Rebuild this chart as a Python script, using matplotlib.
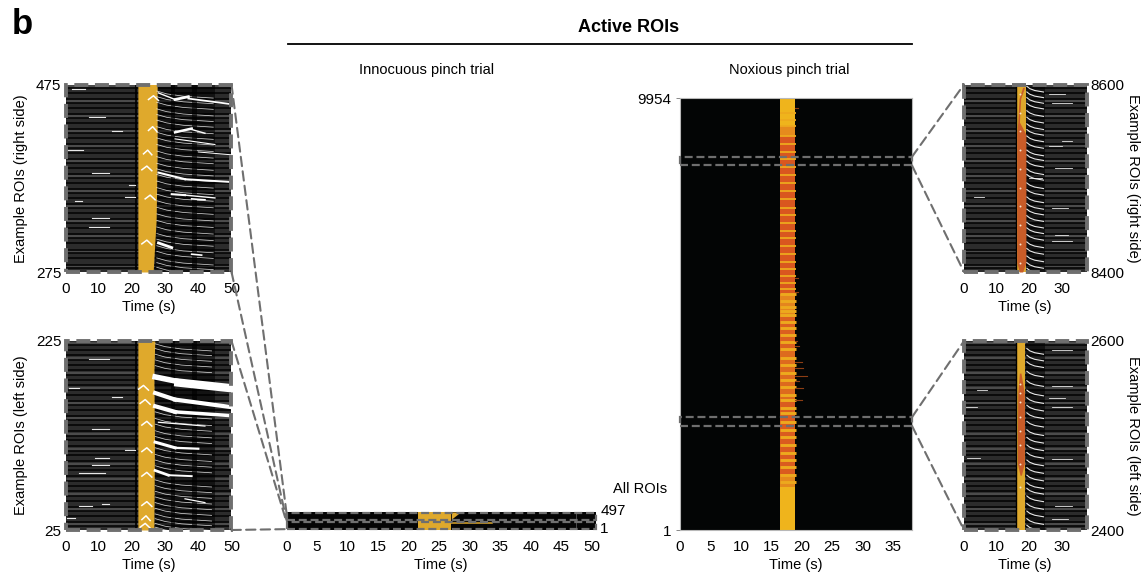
import matplotlib
matplotlib.use("Agg")
import numpy as np
import matplotlib.pyplot as plt
from matplotlib.colors import LinearSegmentedColormap
from matplotlib.patches import ConnectionPatch, Rectangle
from matplotlib.transforms import ScaledTranslation

plt.rcParams['font.family'] = ['Liberation Sans', 'DejaVu Sans']
plt.rcParams['font.size'] = 10.5

W, H = 1144, 580
GOLD = '#dfa92c'
ORANGE = '#c95c28'
BOX = '#6f6f6f'

# black lines in the example panels, offset from the bottom of the 200 ROI window
row_offsets = [4, 8, 15, 20, 24, 31, 36, 41, 47, 52, 57, 63, 68, 73, 79, 84, 89, 95, 100, 105,
               111, 116, 121, 127, 132, 137, 143, 148, 153, 159, 164, 169, 175, 180, 185, 191, 196]
# lighter bars between them
bar_offsets = [6, 22, 38, 54, 70, 86, 102, 118, 134, 150, 166, 182, 198]
# shape of one decaying trace after the stimulus
fade_t = [0, 3, 8, 17]
fade_drop = [0, 3, 5.5, 7.5]

# innocuous, right side (275-475)
a_band_roi = [475, 400, 330, 300, 275]
a_band_right = [27.6, 27.6, 27.3, 26.8, 26.4]
a_fade_roi = [468, 462, 456, 449, 443, 437, 430, 424, 418, 411, 404, 398, 391, 385, 379, 372, 365,
              358, 351, 344, 337, 330, 323, 316, 310, 303, 297, 290, 285, 280]
a_bright = [(28, 466, 33, 459, 1.0), (33, 459, 37, 462, 2.0), (37, 460, 50, 454, 1.3), (33, 424, 38, 428, 1.8),
            (38, 427, 42, 423, 1.0), (28, 381, 36, 374, 1.5), (36, 374, 50, 371, 1.4), (32, 358, 36, 357, 1.5),
            (36, 357, 45, 354, 1.0), (28, 306, 32, 301, 2.0), (38, 353, 42, 352, 1.2), (38, 294, 41, 293, 1.2),
            (33, 417, 45, 411, 0.8), (40, 403, 50, 400, 0.7)]
a_specks = [(0.3, 5.4, 405), (8, 13, 381), (7, 13, 323), (8, 13, 333), (3, 5, 351), (19, 21, 368), (2, 6, 470),
            (7, 12, 440), (14, 17, 425), (18, 21, 355)]
a_arcs = [(23, 26, 388), (23, 26, 309), (24, 27, 357), (25, 27.5, 430), (25, 28, 463), (23.5, 26, 405)]

# innocuous, left side (25-225)
b_band_roi = [225, 190, 120, 25]
b_band_right = [26.9, 26.6, 26.8, 26.6]
b_fade_roi = [222, 217, 211, 205, 199, 150, 143, 137, 130, 124, 112, 105, 99, 93, 78, 72, 66, 60,
              54, 48, 42, 37, 32, 28]
b_bright = [(27, 187, 34, 182, 4.0), (34, 181, 50, 175, 6.0), (27, 170, 33, 163, 3.0), (33, 163, 50, 155, 3.0),
            (27, 156, 33, 150, 3.0), (33, 150, 50, 146, 2.5), (27, 118, 33, 112, 2.2), (33, 112, 40, 111, 1.6),
            (27, 88, 31, 83, 2.0), (31, 83, 38, 82, 1.4), (28, 139, 42, 135, 0.9), (36, 58, 42, 54, 0.9)]
b_specks = [(7, 13, 206), (8, 13, 132), (9, 13, 101), (4, 12, 85), (8, 13, 94), (4, 8, 50), (11, 13, 52), (0.5, 3, 38),
            (1, 4, 175), (14, 17, 166), (18, 21, 110)]
b_arcs = [(22, 25, 178), (22.5, 25.5, 163), (23, 26, 86), (23, 26, 55), (23, 25.5, 40), (22.5, 25.5, 32),
          (23, 26, 140), (23, 26, 112)]

# noxious, right side (8400-8600)
e_orange_roi = [8597, 8585, 8560, 8547, 8410, 8400]
e_orange_left = [18.0, 16.9, 16.5, 16.2, 16.2, 17.0]
e_orange_right = [18.6, 17.4, 17.0, 19.0, 19.0, 18.0]
e_fade_roi = [8598, 8592, 8586, 8580, 8572, 8565, 8558, 8552, 8545, 8538, 8530, 8525, 8518, 8510, 8504,
              8495, 8488, 8480, 8473, 8467, 8460, 8453, 8447, 8440, 8432, 8425, 8417, 8410, 8404]
e_specks = [(27, 33, 8580), (26, 30, 8534), (30, 33, 8540), (3, 6, 8480), (27, 32, 8468), (28, 32, 8440),
            (27, 33, 8433), (28, 33, 8511), (26, 31, 8590), (20, 24, 8500)]
e_dots = [8590, 8570, 8550, 8530, 8510, 8490, 8470, 8450, 8430, 8410]

# noxious, left side (2400-2600)
f_orange_roi = [2566, 2545, 2500, 2470, 2458]
f_orange_left = [17.0, 16.5, 16.4, 16.4, 17.2]
f_orange_right = [17.5, 18.5, 18.6, 18.5, 17.6]
f_fade_roi = [2592, 2585, 2578, 2568, 2558, 2548, 2540, 2532, 2524, 2515, 2506, 2498, 2490, 2482, 2474,
              2466, 2458, 2450, 2444, 2436, 2428, 2420, 2412, 2405]
f_specks = [(27, 33, 2552), (27, 33, 2530), (26, 31, 2540), (0.5, 4, 2530), (1, 5, 2476), (27, 33, 2475),
            (27, 32, 2412), (27, 33, 2590), (28, 33, 2425), (4, 7, 2548)]
f_dots = [2555, 2545, 2535, 2520, 2505, 2490, 2470, 2445]

# all ROIs, innocuous trial
c_band = [21.6, 27.0]
c_top_right = [27.0, 28.5]
c_tail = [26.5, 33.7, 190]

# all ROIs, noxious trial
nox_edges = [9954, 9300, 9090, 5440, 4900, 4150, 3000, 1300, 1000, 1]
nox_levels = [0.0, 0.45, 1.0, 0.5, 0.9, 0.8, 0.95, 0.45, 0.0]
nox_band = [16.5, 18.9]
nox_gold_rows = [9600, 9450, 9300, 9086, 8902, 8718, 8557, 8373, 8189, 8005, 7821, 7637, 7430, 7269, 7085, 6901,
                 6717, 6533, 6349, 6165, 6004, 5843, 5682, 5544, 5429, 5268, 5130, 5038, 4946, 4785, 4647,
                 4486, 4325, 4164, 3957, 3796, 3612, 3451, 3290, 3106, 2991, 2807, 2692, 2485, 2301,
                 2140, 1956, 1772, 1611, 1450, 1266, 1105]
nox_streaks = [(19.4, 9730), (20.0, 3865), (20.2, 3727), (20.9, 3543), (19.6, 3428), (20.2, 3267), (20.0, 3000),
               (19.4, 5480), (19.2, 4350), (19.6, 4230), (19.3, 5810)]


def px_axes(x0, y0, x1, y1):
    return fig.add_axes([x0 / W, 1 - y1 / H, (x1 - x0) / W, (y1 - y0) / H])


def label_axes(ax, xticks, yticks, side='left'):
    ax.set_xticks(xticks)
    ax.set_yticks(yticks)
    ax.tick_params(length=0, labelsize=11)
    ax.tick_params(axis='x', pad=7)
    ax.tick_params(axis='y', pad=3)
    ax.set_xlabel('Time (s)', labelpad=3, fontsize=10.5)
    if side == 'right':
        ax.yaxis.tick_right()
    for s in ax.spines.values():
        s.set_visible(False)


def draw_rois(ax, bottom, tmax, band_left, late_end):
    ax.set_facecolor('#2c2c2c')
    ax.hlines([bottom + r for r in bar_offsets], 0, tmax, color='#4b4b4b', lw=2.4, zorder=0.8)
    ax.hlines([bottom + r for r in row_offsets], 0, tmax, color='#050505', lw=1.2, zorder=1)
    ax.axvspan(band_left, late_end, color='black', alpha=0.55, lw=0, zorder=1.5)


def draw_box(ax, x0, x1, y0, y1, lw=2.8, dash=(3.6, 1.7)):
    ax.add_patch(Rectangle((x0, y0), x1 - x0, y1 - y0, fill=False, ec=BOX, lw=lw,
                           ls=(0, dash), clip_on=False, zorder=6))


def draw_fades(ax, rois, t0, span, drop, lw=0.55, alpha=0.8):
    for r in rois:
        ts = [t0 + t * span for t in fade_t]
        ys = [r - d * drop for d in fade_drop]
        ax.plot(ts, ys, color='white', lw=lw, alpha=alpha, zorder=3.4)


def draw_specks(ax, specks, lw=0.8):
    for t0, t1, r in specks:
        ax.plot([t0, t1], [r, r], color='#e8e8e8', lw=lw, zorder=3)


def draw_arcs(ax, arcs):
    for t0, t1, r in arcs:
        ax.plot([t0, (t0 + t1) / 2, t1], [r - 4, r, r - 5], color='white', lw=1.1, zorder=4)


def dark_columns(ax):
    ax.axvspan(31.8, 33, color='black', alpha=0.65, lw=0, zorder=3.5)
    ax.axvspan(38.2, 39.5, color='black', alpha=0.65, lw=0, zorder=3.5)


fig = plt.figure(figsize=(W / 100, H / 100), dpi=100)

# example ROIs, innocuous
ax_a = px_axes(65.5, 84.5, 231.5, 272)
ax_a.set_xlim(0, 50)
ax_a.set_ylim(275, 475)
draw_rois(ax_a, 275, 50, 27, 45)
dark_columns(ax_a)
ax_a.fill_betweenx(a_band_roi, 21.8, a_band_right, color=GOLD, lw=0, zorder=2)
ax_a.axvline(21.3, color='black', lw=1.2, zorder=2)
draw_specks(ax_a, a_specks)
draw_fades(ax_a, a_fade_roi, 27.5, 1, 1)
for t0, r0, t1, r1, lw in a_bright:
    ax_a.plot([t0, t1], [r0, r1], color='white', lw=lw, zorder=4)
draw_arcs(ax_a, a_arcs)
draw_box(ax_a, 0, 50, 275, 475)
label_axes(ax_a, [0, 10, 20, 30, 40, 50], [275, 475])
ax_a.set_ylabel('Example ROIs (right side)', fontsize=10.5)
ax_a.yaxis.set_label_coords(-0.226, 0.5)

ax_b = px_axes(65.5, 341, 231.5, 530)
ax_b.set_xlim(0, 50)
ax_b.set_ylim(25, 225)
draw_rois(ax_b, 25, 50, 27, 45)
dark_columns(ax_b)
ax_b.fill_betweenx(b_band_roi, 21.8, b_band_right, color=GOLD, lw=0, zorder=2)
ax_b.axvline(21.3, color='black', lw=1.2, zorder=2)
draw_specks(ax_b, b_specks)
draw_fades(ax_b, b_fade_roi, 27, 1, 1)
for t0, r0, t1, r1, lw in b_bright:
    ax_b.plot([t0, t1], [r0, r1], color='white', lw=lw, zorder=4)
draw_arcs(ax_b, b_arcs)
draw_box(ax_b, 0, 50, 25, 225)
label_axes(ax_b, [0, 10, 20, 30, 40, 50], [25, 225])
ax_b.set_ylabel('Example ROIs (left side)', fontsize=10.5)
ax_b.yaxis.set_label_coords(-0.226, 0.5)

# all ROIs, innocuous
ax_c = px_axes(286.5, 512, 596, 530)
ax_c.set_xlim(0, 50.7)
ax_c.set_ylim(1, 497)
ax_c.set_facecolor('#050505')
ax_c.axvspan(c_band[0], c_band[1], color=GOLD, lw=0, zorder=2)
ax_c.fill_between(c_top_right, [300, 497], 497, color=GOLD, lw=0, zorder=2)
ax_c.plot(c_tail[:2], [c_tail[2], c_tail[2]], color=GOLD, lw=1.1, zorder=2)
ax_c.axvline(47.5, color='#555555', lw=0.6, zorder=1)
draw_box(ax_c, 0, 50.7, 25, 225, lw=1.6)
draw_box(ax_c, 0, 50.7, 275, 475, lw=1.6)
label_axes(ax_c, [0, 5, 10, 15, 20, 25, 30, 35, 40, 45, 50], [1, 497], side='right')
for lab in ax_c.get_yticklabels():
    lab.set_transform(lab.get_transform() + ScaledTranslation(0, 2 / 72, fig.dpi_scale_trans))

# all ROIs, noxious
ax_d = px_axes(680, 98, 912, 530)
ax_d.set_xlim(0, 38.1)
ax_d.set_ylim(1, 9954)
ax_d.set_facecolor('#030505')
heat = LinearSegmentedColormap.from_list('heat', ['#efb41c', '#d9571f'])
ax_d.pcolormesh(nox_band, nox_edges[::-1], np.array(nox_levels[::-1]).reshape(-1, 1), cmap=heat, vmin=0, vmax=1,
                zorder=2)
for r in nox_gold_rows:
    lw = 2.1 if r < 5450 else 1.3
    ax_d.plot([16.5, 19.1], [r, r], color='#eda91d', lw=lw, solid_capstyle='butt', zorder=3)
for t1, r in nox_streaks:
    ax_d.plot([18.9, t1], [r, r], color='#8c3d14', lw=0.8, zorder=3)
draw_box(ax_d, 0, 38.1, 8400, 8600, lw=1.6)
draw_box(ax_d, 0, 38.1, 2400, 2600, lw=1.6)
label_axes(ax_d, [0, 5, 10, 15, 20, 25, 30, 35], [1, 9954])
ax_d.tick_params(axis='y', length=3, width=0.7, color='#888888', pad=3)
for s in ax_d.spines.values():
    s.set_visible(True)
    s.set_color('#b8b8b8')
    s.set_linewidth(0.8)

# example ROIs, noxious
ax_e = px_axes(964, 84.5, 1086.5, 272)
ax_e.set_xlim(0, 37.6)
ax_e.set_ylim(8400, 8600)
draw_rois(ax_e, 8400, 37.6, 19, 25)
ax_e.axvspan(16.2, 19, color=GOLD, lw=0, zorder=2)
ax_e.fill_betweenx(e_orange_roi, e_orange_left, e_orange_right, color=ORANGE, lw=0, zorder=2.2)
ax_e.scatter([17.2] * len(e_dots), e_dots, s=2, color='#f5e6d0', lw=0, zorder=3)
ax_e.axvline(15.9, color='black', lw=1, zorder=2)
draw_fades(ax_e, e_fade_roi, 19.3, 0.3, 0.8, lw=0.8, alpha=0.9)
draw_specks(ax_e, e_specks, lw=0.6)
draw_box(ax_e, 0, 37.6, 8400, 8600)
label_axes(ax_e, [0, 10, 20, 30], [8400, 8600], side='right')
ax_e.yaxis.set_label_position('right')
ax_e.set_ylabel('Example ROIs (right side)', rotation=270, fontsize=10.5, va='center')
ax_e.yaxis.set_label_coords(1.38, 0.5)

ax_f = px_axes(964, 341, 1086.5, 530)
ax_f.set_xlim(0, 37.6)
ax_f.set_ylim(2400, 2600)
draw_rois(ax_f, 2400, 37.6, 19, 25)
ax_f.axvspan(16.2, 18.8, color=GOLD, lw=0, zorder=2)
ax_f.fill_betweenx(f_orange_roi, f_orange_left, f_orange_right, color=ORANGE, lw=0, zorder=2.2)
ax_f.scatter([17.3] * len(f_dots), f_dots, s=2, color='#f5e6d0', lw=0, zorder=3)
ax_f.axvline(15.9, color='black', lw=1, zorder=2)
draw_fades(ax_f, f_fade_roi, 19.3, 0.3, 0.8, lw=0.8, alpha=0.9)
draw_specks(ax_f, f_specks, lw=0.6)
draw_box(ax_f, 0, 37.6, 2400, 2600)
label_axes(ax_f, [0, 10, 20, 30], [2400, 2600], side='right')
ax_f.yaxis.set_label_position('right')
ax_f.set_ylabel('Example ROIs (left side)', rotation=270, fontsize=10.5, va='center')
ax_f.yaxis.set_label_coords(1.38, 0.5)

# zoom connectors
links = [(ax_a, (50, 475), ax_c, (0, 475)), (ax_a, (50, 275), ax_c, (0, 275)),
         (ax_b, (50, 225), ax_c, (0, 225)), (ax_b, (50, 25), ax_c, (0, 25)),
         (ax_d, (38.1, 8600), ax_e, (0, 8600)), (ax_d, (38.1, 8400), ax_e, (0, 8400)),
         (ax_d, (38.1, 2600), ax_f, (0, 2600)), (ax_d, (38.1, 2400), ax_f, (0, 2400))]
for a1, p1, a2, p2 in links:
    fig.add_artist(ConnectionPatch(p1, p2, 'data', 'data', axesA=a1, axesB=a2, color=BOX, lw=1.5,
                                   ls=(0, (4.5, 2.5))))

fig.text(12 / W, 1 - 25 / H, 'b', fontsize=25, fontweight='bold', va='center')
fig.text(629 / W, 1 - 28 / H, 'Active ROIs', fontsize=13, fontweight='bold', ha='center', va='center')
fig.add_artist(plt.Line2D([288 / W, 912 / W], [1 - 44 / H, 1 - 44 / H], color='black', lw=1.3))
fig.text(427 / W, 1 - 70 / H, 'Innocuous pinch trial', ha='center', va='center')
fig.text(789 / W, 1 - 70 / H, 'Noxious pinch trial', ha='center', va='center')
fig.text(613 / W, 1 - 489 / H, 'All ROIs', va='center')

fig.savefig('out.png', dpi=100)
